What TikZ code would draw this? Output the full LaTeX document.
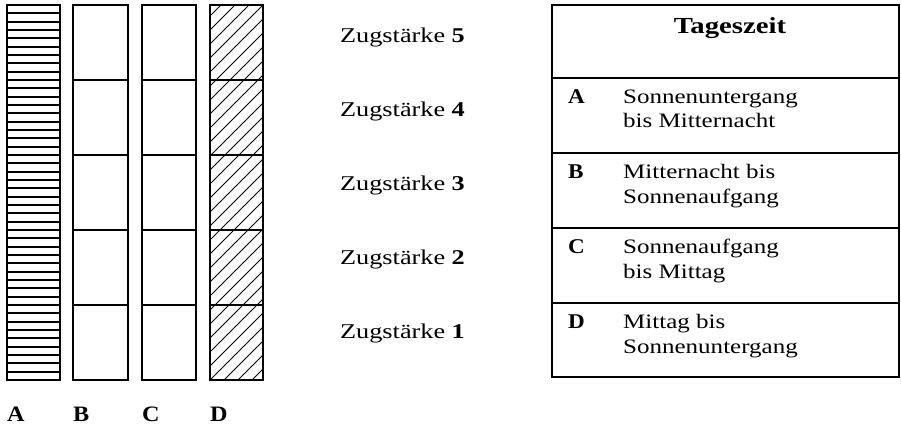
\documentclass[tikz,border=0pt]{standalone}
\usepackage{fontspec}
\setmainfont{Liberation Serif}
\begin{document}
\begin{tikzpicture}[x=1pt,y=-1pt,
  frame/.style={line width=2.8pt},
  divider/.style={line width=2.2pt},
  stripe/.style={line width=1.8pt},
  hatch/.style={line width=0.9pt},
  rule/.style={line width=2pt},
  txt/.style={anchor=base west, inner sep=0pt, font=\fontsize{20.5}{24}\selectfont},
  lvl/.style={anchor=base west, inner sep=0pt, font=\fontsize{21}{25}\selectfont},
  key/.style={anchor=base west, inner sep=0pt, font=\fontsize{21}{25}\selectfont\bfseries},
  colname/.style={anchor=base west, inner sep=0pt, font=\fontsize{22}{26}\selectfont\bfseries}]
\useasboundingbox (0,0) rectangle (901,425);

% column A: dense horizontal stripes
\foreach \k in {1,...,44}
  \draw[stripe] (7,{5+\k*75/9}) -- (60,{5+\k*75/9});

% column D: diagonal hatching
\begin{scope}
  \clip (210,5) rectangle (263,380);
  \foreach \t in {-420,-406,...,60}
    \draw[hatch] ({210+\t},380) -- ({210+\t+420},-40);
\end{scope}

% frames and dividers of the four columns
\foreach \xa/\xb/\n in {7/60/A,73/128/B,142/196/C,210/263/D}{
  \foreach \yy in {80,155,230,305}
    \draw[divider] (\xa,\yy) -- (\xb,\yy);
  \draw[frame] (\xa,5) rectangle (\xb,380);
  \node[colname] (col\n) at (\xa,421) {\scalebox{1.1}[1]{\n}};
}

% strength labels
\foreach \yy/\s in {43/5,117/4,190/3,264/2,338/1}
  \node[lvl] (lvl\s) at (340,\yy) {\scalebox{1.25}[1]{Zugstärke \textbf{\s}}};

% time-of-day table
\draw[frame] (552,5) rectangle (899,377);
\foreach \yy in {78,153,228,303}
  \draw[rule] (552,\yy) -- (899,\yy);
\node[anchor=base, inner sep=0pt, font=\fontsize{23}{27}\selectfont\bfseries]
  (head) at (730,34) {\scalebox{1.25}[1]{Tageszeit}};

\node[key] (kA) at (568,103) {\scalebox{1.1}[1]{A}};
\node[txt] (tA1) at (623,103) {\scalebox{1.22}[1]{Sonnenuntergang}};
\node[txt] (tA2) at (623,128) {\scalebox{1.22}[1]{bis Mitternacht}};

\node[key] (kB) at (568,178) {\scalebox{1.1}[1]{B}};
\node[txt] (tB1) at (623,178) {\scalebox{1.22}[1]{Mitternacht bis}};
\node[txt] (tB2) at (623,203) {\scalebox{1.22}[1]{Sonnenaufgang}};

\node[key] (kC) at (568,253) {\scalebox{1.1}[1]{C}};
\node[txt] (tC1) at (623,253) {\scalebox{1.22}[1]{Sonnenaufgang}};
\node[txt] (tC2) at (623,278) {\scalebox{1.22}[1]{bis Mittag}};

\node[key] (kD) at (568,328) {\scalebox{1.1}[1]{D}};
\node[txt] (tD1) at (623,328) {\scalebox{1.22}[1]{Mittag bis}};
\node[txt] (tD2) at (623,353) {\scalebox{1.22}[1]{Sonnenuntergang}};
\end{tikzpicture}
\end{document}
